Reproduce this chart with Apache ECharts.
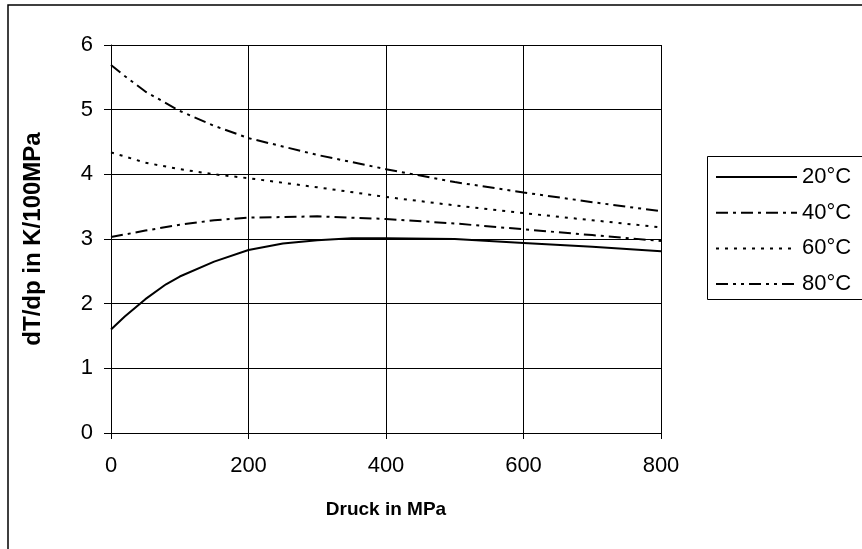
<!DOCTYPE html>
<html>
<head>
<meta charset="utf-8">
<script src="https://cdn.jsdelivr.net/npm/echarts@6/dist/echarts.min.js"></script>
<style>
  html, body { margin: 0; padding: 0; background: #fff; }
  #chart { width: 862px; height: 549px; }
</style>
</head>
<body>
<div id="chart"></div>
<script>
// Druck in MPa / dT/dp in K/100MPa
const druck20 = [0, 20, 50, 80, 100, 150, 200, 250, 300, 350, 400, 500, 600, 700, 800];
const werte20 = [1.6, 1.8, 2.07, 2.3, 2.42, 2.65, 2.83, 2.93, 2.98, 3.01, 3.01, 3.0, 2.94, 2.88, 2.81];

const druck40 = [0, 50, 100, 150, 200, 300, 400, 500, 600, 700, 800];
const werte40 = [3.03, 3.13, 3.22, 3.29, 3.33, 3.35, 3.31, 3.24, 3.15, 3.06, 2.97];

const druck60 = [0, 50, 100, 150, 200, 300, 400, 500, 600, 700, 800];
const werte60 = [4.34, 4.18, 4.08, 4.0, 3.94, 3.8, 3.65, 3.52, 3.4, 3.29, 3.18];

const druck80 = [0, 20, 50, 100, 150, 200, 300, 400, 500, 600, 700, 800];
const werte80 = [5.69, 5.52, 5.28, 4.98, 4.75, 4.56, 4.3, 4.08, 3.88, 3.72, 3.57, 3.43];

const namen = ['20°C', '40°C', '60°C', '80°C'];

function paare(xs, ys) {
  return xs.map((x, i) => [x, ys[i]]);
}

const font = "'Liberation Sans', Arial, sans-serif";

let myChart = echarts.init(document.getElementById('chart'));

function linie(name, daten, typ) {
  return {
    name: name,
    type: 'line',
    data: daten,
    symbol: 'none',
    smooth: false,
    lineStyle: { color: '#000', width: 2, type: typ },
    itemStyle: { color: '#000' },
  };
}

myChart.setOption({
  animation: false,
  backgroundColor: '#fff',
  textStyle: { fontFamily: font },
  graphic: [
    {
      type: 'rect',
      shape: { x: 8, y: 5, width: 870, height: 560 },
      style: { fill: 'none', stroke: '#000', lineWidth: 1.5 },
      silent: true,
    },
    {
      type: 'rect',
      shape: { x: 707.5, y: 156.5, width: 200, height: 143 },
      style: { fill: '#fff', stroke: '#000', lineWidth: 1 },
      silent: true,
      z: 0,
    },
  ],
  grid: { left: 111, right: 201, top: 45, bottom: 116 },
  legend: {
    orient: 'vertical',
    left: 710,
    top: 161,
    itemWidth: 81,
    itemHeight: 20,
    itemGap: 13.7,
    itemStyle: { opacity: 0 },
    textStyle: { fontSize: 22, color: '#000', fontFamily: font },
    data: namen,
    z: 10,
  },
  xAxis: {
    type: 'value',
    min: 0,
    max: 800,
    interval: 200,
    name: 'Druck in MPa',
    nameLocation: 'middle',
    nameGap: 67,
    nameTextStyle: { fontSize: 19, fontWeight: 'bold', color: '#000' },
    axisLine: { lineStyle: { color: '#000', width: 1 } },
    axisTick: { show: true, inside: false, length: 6, lineStyle: { color: '#000' } },
    axisLabel: { fontSize: 22, color: '#000', margin: 22 },
    splitLine: { show: true, lineStyle: { color: '#000', width: 1 } },
  },
  yAxis: {
    type: 'value',
    min: 0,
    max: 6,
    interval: 1,
    name: 'dT/dp in K/100MPa',
    nameLocation: 'middle',
    nameGap: 66,
    nameTextStyle: { fontSize: 24, fontWeight: 'bold', color: '#000' },
    axisLine: { show: true, lineStyle: { color: '#000', width: 1 } },
    axisTick: { show: true, inside: false, length: 7, lineStyle: { color: '#000' } },
    axisLabel: { fontSize: 22, color: '#000', margin: 18 },
    splitLine: { show: true, lineStyle: { color: '#000', width: 1 } },
  },
  series: [
    linie('20°C', paare(druck20, werte20), 'solid'),
    linie('40°C', paare(druck40, werte40), [12, 5, 3, 5]),
    linie('60°C', paare(druck60, werte60), [3, 6]),
    linie('80°C', paare(druck80, werte80), [12, 5, 3, 5, 3, 5]),
  ],
});

window.onresize = function () {
  myChart.resize();
};
</script>
</body>
</html>
